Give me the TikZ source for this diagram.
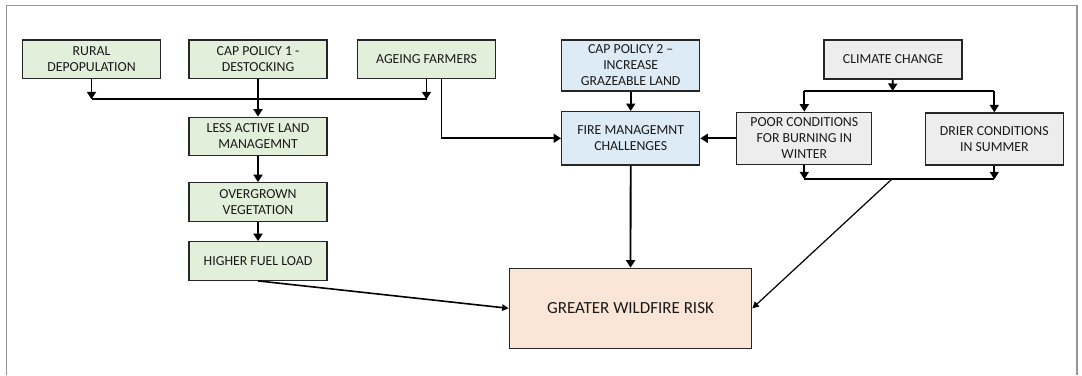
\documentclass[tikz,border=0pt]{standalone}
\usepackage{fontspec}
\setmainfont{Carlito}
\usetikzlibrary{arrows.meta}
\definecolor{gfill}{HTML}{E2EFDA}
\definecolor{bfill}{HTML}{DDEBF7}
\definecolor{cfill}{HTML}{EDEDED}
\definecolor{pfill}{HTML}{FBE5D6}
\definecolor{edge}{HTML}{262626}
\definecolor{frame}{HTML}{959595}
\definecolor{txt}{HTML}{1A1A1A}
\tikzset{
  box/.style={draw=edge, line width=1.3pt, minimum width=138pt, minimum height=38.5pt,
    inner sep=0pt, align=center, text=txt, font=\fontsize{13.8}{16}\selectfont},
  gbox/.style={box, fill=gfill},
  bbox/.style={box, fill=bfill},
  cbox/.style={box, fill=cfill},
  conn/.style={draw=black, line width=1.8pt},
  arr/.style={conn, -{Triangle[length=7.5pt,width=9pt]}},
  thinarr/.style={draw=black, line width=1.2pt, -{Triangle[length=6.5pt,width=6.5pt]}},
}
\begin{document}
\begin{tikzpicture}[x=1pt, y=-1pt]
\useasboundingbox (0,0) rectangle (1082,375);
% outer frame (open at the bottom)
\draw[frame, line width=1.4pt] (6.7,375) -- (6.7,5.7) -- (1077,5.7) -- (1077,375);

% nodes
\node[gbox] (rural)  at (91.5,59.2)  {RURAL\\DEPOPULATION};
\node[gbox] (cap1)   at (258,59.2)   {CAP POLICY 1 -\\DESTOCKING};
\node[gbox] (ageing) at (426.5,59.2) {AGEING FARMERS};
\node[gbox] (less)   at (258,136.5)  {LESS ACTIVE LAND\\MANAGEMNT};
\node[gbox] (over)   at (258,202)    {OVERGROWN\\VEGETATION};
\node[gbox] (fuel)   at (258,261)    {HIGHER FUEL LOAD};
\node[bbox, minimum height=51pt] (cap2) at (630.7,65.5) {CAP POLICY 2 --\\INCREASE\\GRAZEABLE LAND};
\node[bbox, minimum height=53.3pt] (fire) at (630.7,138.3) {FIRE MANAGEMNT\\CHALLENGES};
\node[cbox, minimum height=39pt] (climate) at (893,59.5) {CLIMATE CHANGE};
\node[cbox, minimum width=135pt, minimum height=52pt] (poor) at (804.3,138.3) {POOR CONDITIONS\\FOR BURNING IN\\WINTER};
\node[cbox, minimum height=52pt] (drier) at (994.3,139) {DRIER CONDITIONS\\IN SUMMER};
\node[box, fill=pfill, minimum width=242.4pt, minimum height=80pt,
  font=\fontsize{17}{19}\selectfont] (risk) at (630.5,308.3) {GREATER WILDFIRE RISK};

% junction coordinates
\coordinate (busL) at (91.5,99.3);
\coordinate (busR) at (426.5,99.3);
\coordinate (cbM) at (892.7,91);
\coordinate (cbL) at (804.3,91);
\coordinate (cbR) at (994.3,91);
\coordinate (bbL) at (804.3,179.3);
\coordinate (bbR) at (994.3,179.3);
\coordinate (bbM) at (891.7,179.3);

% left group
\draw[arr] (rural) -- (busL);
\draw[arr] (ageing) -- (busR);
\draw[conn] (busL) -- (busR);
\draw[arr] (cap1) -- (less);
\draw[arr] (less) -- (over);
\draw[arr] (over) -- (fuel);
\draw[arr] ([xshift=15pt]ageing.south) |- (fire.west);

% middle
\draw[arr] (cap2) -- (fire);
\draw[arr] (poor.west) -- (fire.east);
\draw[arr] (fire) -- (risk);

% climate group
\draw[arr] (climate) -- (cbM);
\draw[conn] (cbL) -- (cbR);
\draw[arr] (cbL) -- (poor);
\draw[arr] (cbR) -- (drier);
\draw[arr] (poor.south) -- (bbL);
\draw[arr] (drier.south) -- (bbR);
\draw[conn] (bbL) -- (bbR);

% into the risk box
\draw[thinarr, line width=1.6pt] (fuel.south) -- (risk.west);
\draw[thinarr] (bbM) -- (risk.east);
\end{tikzpicture}
\end{document}
